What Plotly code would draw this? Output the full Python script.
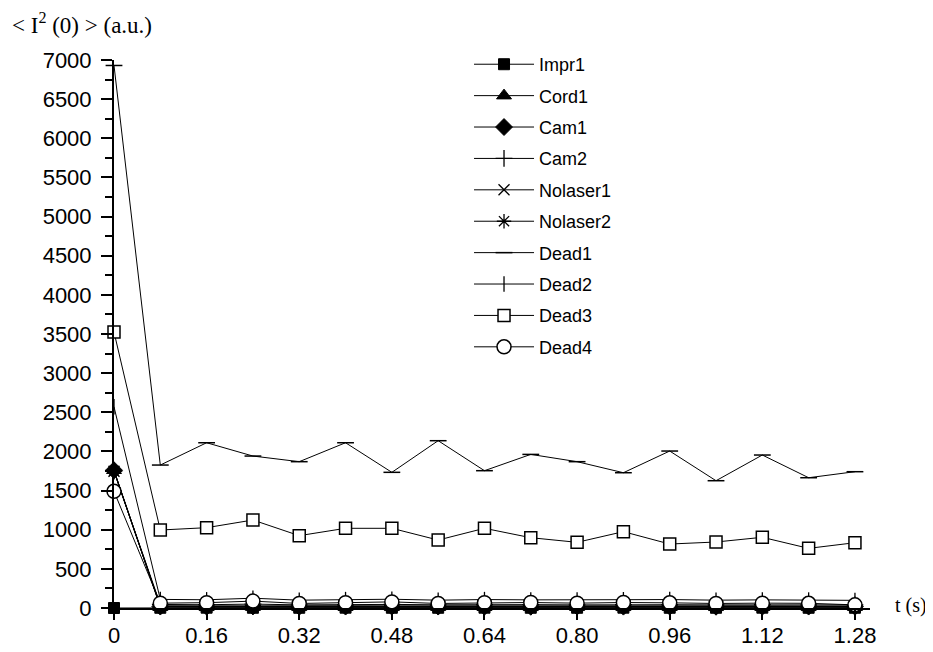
import plotly.graph_objects as go

t = [0, 0.08, 0.16, 0.24, 0.32, 0.40, 0.48, 0.56, 0.64, 0.72, 0.80, 0.88, 0.96, 1.04, 1.12, 1.20, 1.28]

impr1 = [0, 3, 4, 3, 3, 4, 3, 3, 4, 3, 3, 4, 3, 3, 4, 3, 3]
cord1 = [1760, 10, 9, 11, 9, 10, 9, 10, 10, 9, 10, 9, 10, 9, 10, 9, 10]
cam1 = [1760, 18, 17, 20, 16, 18, 17, 18, 17, 16, 18, 17, 18, 16, 17, 18, 16]
cam2 = [1750, 45, 42, 50, 40, 44, 46, 41, 45, 43, 40, 44, 42, 40, 43, 41, 40]
nolaser1 = [1745, 28, 27, 30, 26, 28, 27, 28, 27, 26, 28, 27, 28, 26, 27, 26, 25]
nolaser2 = [1750, 22, 21, 24, 20, 22, 21, 22, 21, 20, 22, 21, 22, 20, 21, 20, 20]
dead1 = [6930, 1826, 2111, 1941, 1869, 2111, 1733, 2137, 1754, 1962, 1869, 1728, 2005, 1626, 1954, 1664, 1741]
dead2 = [2570, 110, 105, 125, 100, 108, 112, 100, 108, 104, 102, 106, 108, 100, 104, 102, 98]
dead3 = [3525, 996, 1026, 1124, 924, 1018, 1018, 868, 1018, 898, 839, 975, 817, 843, 903, 762, 834]
dead4 = [1490, 62, 68, 88, 58, 68, 78, 58, 68, 70, 62, 70, 66, 58, 62, 60, 40]

names = ["Impr1", "Cord1", "Cam1", "Cam2", "Nolaser1", "Nolaser2", "Dead1", "Dead2", "Dead3", "Dead4"]
series = [impr1, cord1, cam1, cam2, nolaser1, nolaser2, dead1, dead2, dead3, dead4]

x_tickvals = [0, 0.16, 0.32, 0.48, 0.64, 0.80, 0.96, 1.12, 1.28]
x_ticktext = ["0", "0.16", "0.32", "0.48", "0.64", "0.80", "0.96", "1.12", "1.28"]
y_tickvals = list(range(0, 7001, 500))

styles = {
    "Impr1": dict(symbol="square", size=11, color="black", line=dict(color="black", width=1)),
    "Cord1": dict(symbol="triangle-up", size=13, color="black", line=dict(color="black", width=1)),
    "Cam1": dict(symbol="diamond", size=13, color="black", line=dict(color="black", width=1)),
    "Cam2": dict(symbol="cross-thin", size=12, color="black", line=dict(color="black", width=1.3)),
    "Nolaser1": dict(symbol="x-thin", size=11, color="black", line=dict(color="black", width=1.3)),
    "Nolaser2": dict(symbol="asterisk", size=12, color="black", line=dict(color="black", width=1.3)),
    "Dead1": dict(symbol="line-ew", size=12, color="black", line=dict(color="black", width=1.5)),
    "Dead2": dict(symbol="line-ns", size=11, color="black", line=dict(color="black", width=1.3)),
    "Dead3": dict(symbol="square", size=12, color="white", line=dict(color="black", width=1.5)),
    "Dead4": dict(symbol="circle", size=14, color="white", line=dict(color="black", width=1.5)),
}

fig = go.Figure()
for i, (n, s) in enumerate(zip(names, series)):
    fig.add_trace(go.Scatter(
        x=t, y=s, name=n, mode="lines+markers",
        line=dict(color="black", width=1),
        marker=styles[n],
        cliponaxis=False,
        legendgroup=f"g{i}",
    ))

fig.update_layout(
    width=925, height=644,
    margin=dict(l=106, r=63, t=52, b=44, autoexpand=False),
    paper_bgcolor="white", plot_bgcolor="white",
    font=dict(family="Liberation Sans, Arial, sans-serif", color="black"),
    showlegend=True,
    legend=dict(
        x=0.4696, y=1.0255, xanchor="left", yanchor="top",
        font=dict(size=18, family="Liberation Sans, Arial, sans-serif"),
        bgcolor="rgba(0,0,0,0)", borderwidth=0,
        traceorder="grouped", tracegroupgap=5, itemwidth=60,
        maxheight=1.0,
    ),
    xaxis=dict(
        range=[0, 1.306], showgrid=False, zeroline=False, automargin=False,
        showline=True, linecolor="black", linewidth=2,
        ticks="outside", ticklen=10, tickwidth=2, tickcolor="black",
        tickvals=x_tickvals, ticktext=x_ticktext,
        tickfont=dict(size=22), ticklabelstandoff=-3,
    ),
    yaxis=dict(
        range=[0, 7000], showgrid=False, zeroline=False, automargin=False,
        showline=True, linecolor="black", linewidth=2,
        ticks="outside", ticklen=11, tickwidth=2, tickcolor="black",
        tickvals=y_tickvals, tickfont=dict(size=22), ticklabelstandoff=5,
        minor=dict(dtick=250, ticks="outside", ticklen=7, tickwidth=2, tickcolor="black"),
    ),
    annotations=[
        dict(text="&lt; I<sup>2</sup> (0) &gt; (a.u.)", xref="paper", yref="paper",
             x=-0.1376, y=1.0657, xanchor="left", yanchor="middle", showarrow=False,
             font=dict(family="Liberation Serif, Times New Roman, serif", size=23)),
        dict(text="t (s)", xref="paper", yref="paper",
             x=1.0304, y=0.005, xanchor="left", yanchor="middle", showarrow=False,
             font=dict(family="Liberation Serif, Times New Roman, serif", size=20)),
    ],
)

fig.write_html("out.html")
